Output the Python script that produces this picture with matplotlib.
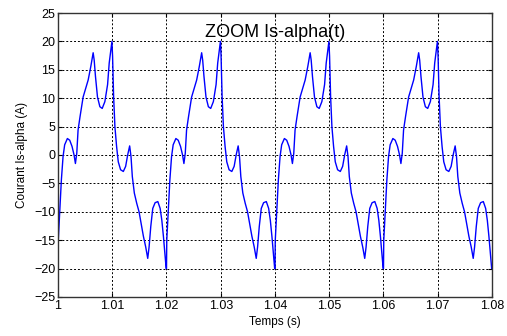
import numpy as np
import matplotlib
matplotlib.use("Agg")
import matplotlib.pyplot as plt

# one period of Is-alpha (time offset in ms, current in A)
t_periode_ms = [0.00, 0.05, 0.31, 0.62, 0.93, 1.23, 1.73, 2.16, 2.59, 2.96,
                3.21, 3.46, 3.70, 4.07, 4.63, 5.06, 5.56, 6.05, 6.48, 6.67,
                6.91, 7.28, 7.72, 8.15, 8.64, 9.14, 9.44, 9.75, 9.94, 10.06,
                10.25, 10.49, 10.80, 11.11, 11.54, 12.04, 12.47, 12.84, 13.21, 13.46,
                13.70, 14.07, 14.51, 14.94, 15.31, 15.74, 16.17, 16.54, 16.79, 17.10,
                17.47, 17.90, 18.40, 18.83, 19.14, 19.44, 19.75, 19.94]
i_periode = [-20.0, -15.0, -10.0, -4.4, -0.3, 1.8, 2.9, 2.6, 1.5, 0.0,
             -1.5, 0.3, 4.4, 6.8, 10.2, 11.6, 13.2, 15.6, 18.0, 16.7,
             13.8, 10.2, 8.5, 8.2, 9.4, 12.4, 16.2, 18.5, 20.0, 17.4,
             10.3, 5.0, 1.5, -1.2, -2.6, -2.9, -2.0, 0.0, 1.6, -0.3,
             -3.8, -6.7, -8.5, -10.0, -12.0, -14.3, -16.2, -18.2, -16.2, -12.6,
             -9.4, -8.4, -8.2, -9.4, -11.5, -14.4, -17.9, -20.0]
debut_periodes = [1.00, 1.02, 1.04, 1.06]
t_fin, i_fin = 1.08, -20.0

t = []
i_s = []
for d in debut_periodes:
    for dt, v in zip(t_periode_ms, i_periode):
        t.append(d + dt / 1000.0)
        i_s.append(v)
t.append(t_fin)
i_s.append(i_fin)

plt.rcParams['font.family'] = ['Liberation Sans', 'DejaVu Sans']

fig = plt.figure(figsize=(5.07, 3.36), dpi=100)
ax = fig.add_axes([0.1144, 0.1161, 0.856, 0.8452])
ax.plot(t, i_s, color='#0000ff', linewidth=1.0)

ax.set_xlim(1.0, 1.08)
ax.set_ylim(-25, 25)
ax.set_xticks([1.0, 1.01, 1.02, 1.03, 1.04, 1.05, 1.06, 1.07, 1.08])
ax.set_xticklabels(['1', '1.01', '1.02', '1.03', '1.04', '1.05', '1.06', '1.07', '1.08'])
ax.set_yticks(np.arange(-25, 26, 5))
ax.grid(True, color='black', linestyle=(0, (2, 2)), linewidth=0.7)
ax.tick_params(direction='in', top=True, right=True, labelsize=9, length=3)
ax.tick_params(axis='x', pad=2)
ax.tick_params(axis='y', pad=2)
for s in ax.spines.values():
    s.set_color('#333333')
    s.set_linewidth(1.0)

ax.text(0.5, 0.93, 'ZOOM Is-alpha(t)', transform=ax.transAxes,
        ha='center', va='center', fontsize=13)
ax.set_xlabel('Temps (s)', fontsize=8.5, labelpad=3)
ax.set_ylabel('Courant Is-alpha (A)', fontsize=8.5, labelpad=4)

fig.savefig('out.png', dpi=100)
